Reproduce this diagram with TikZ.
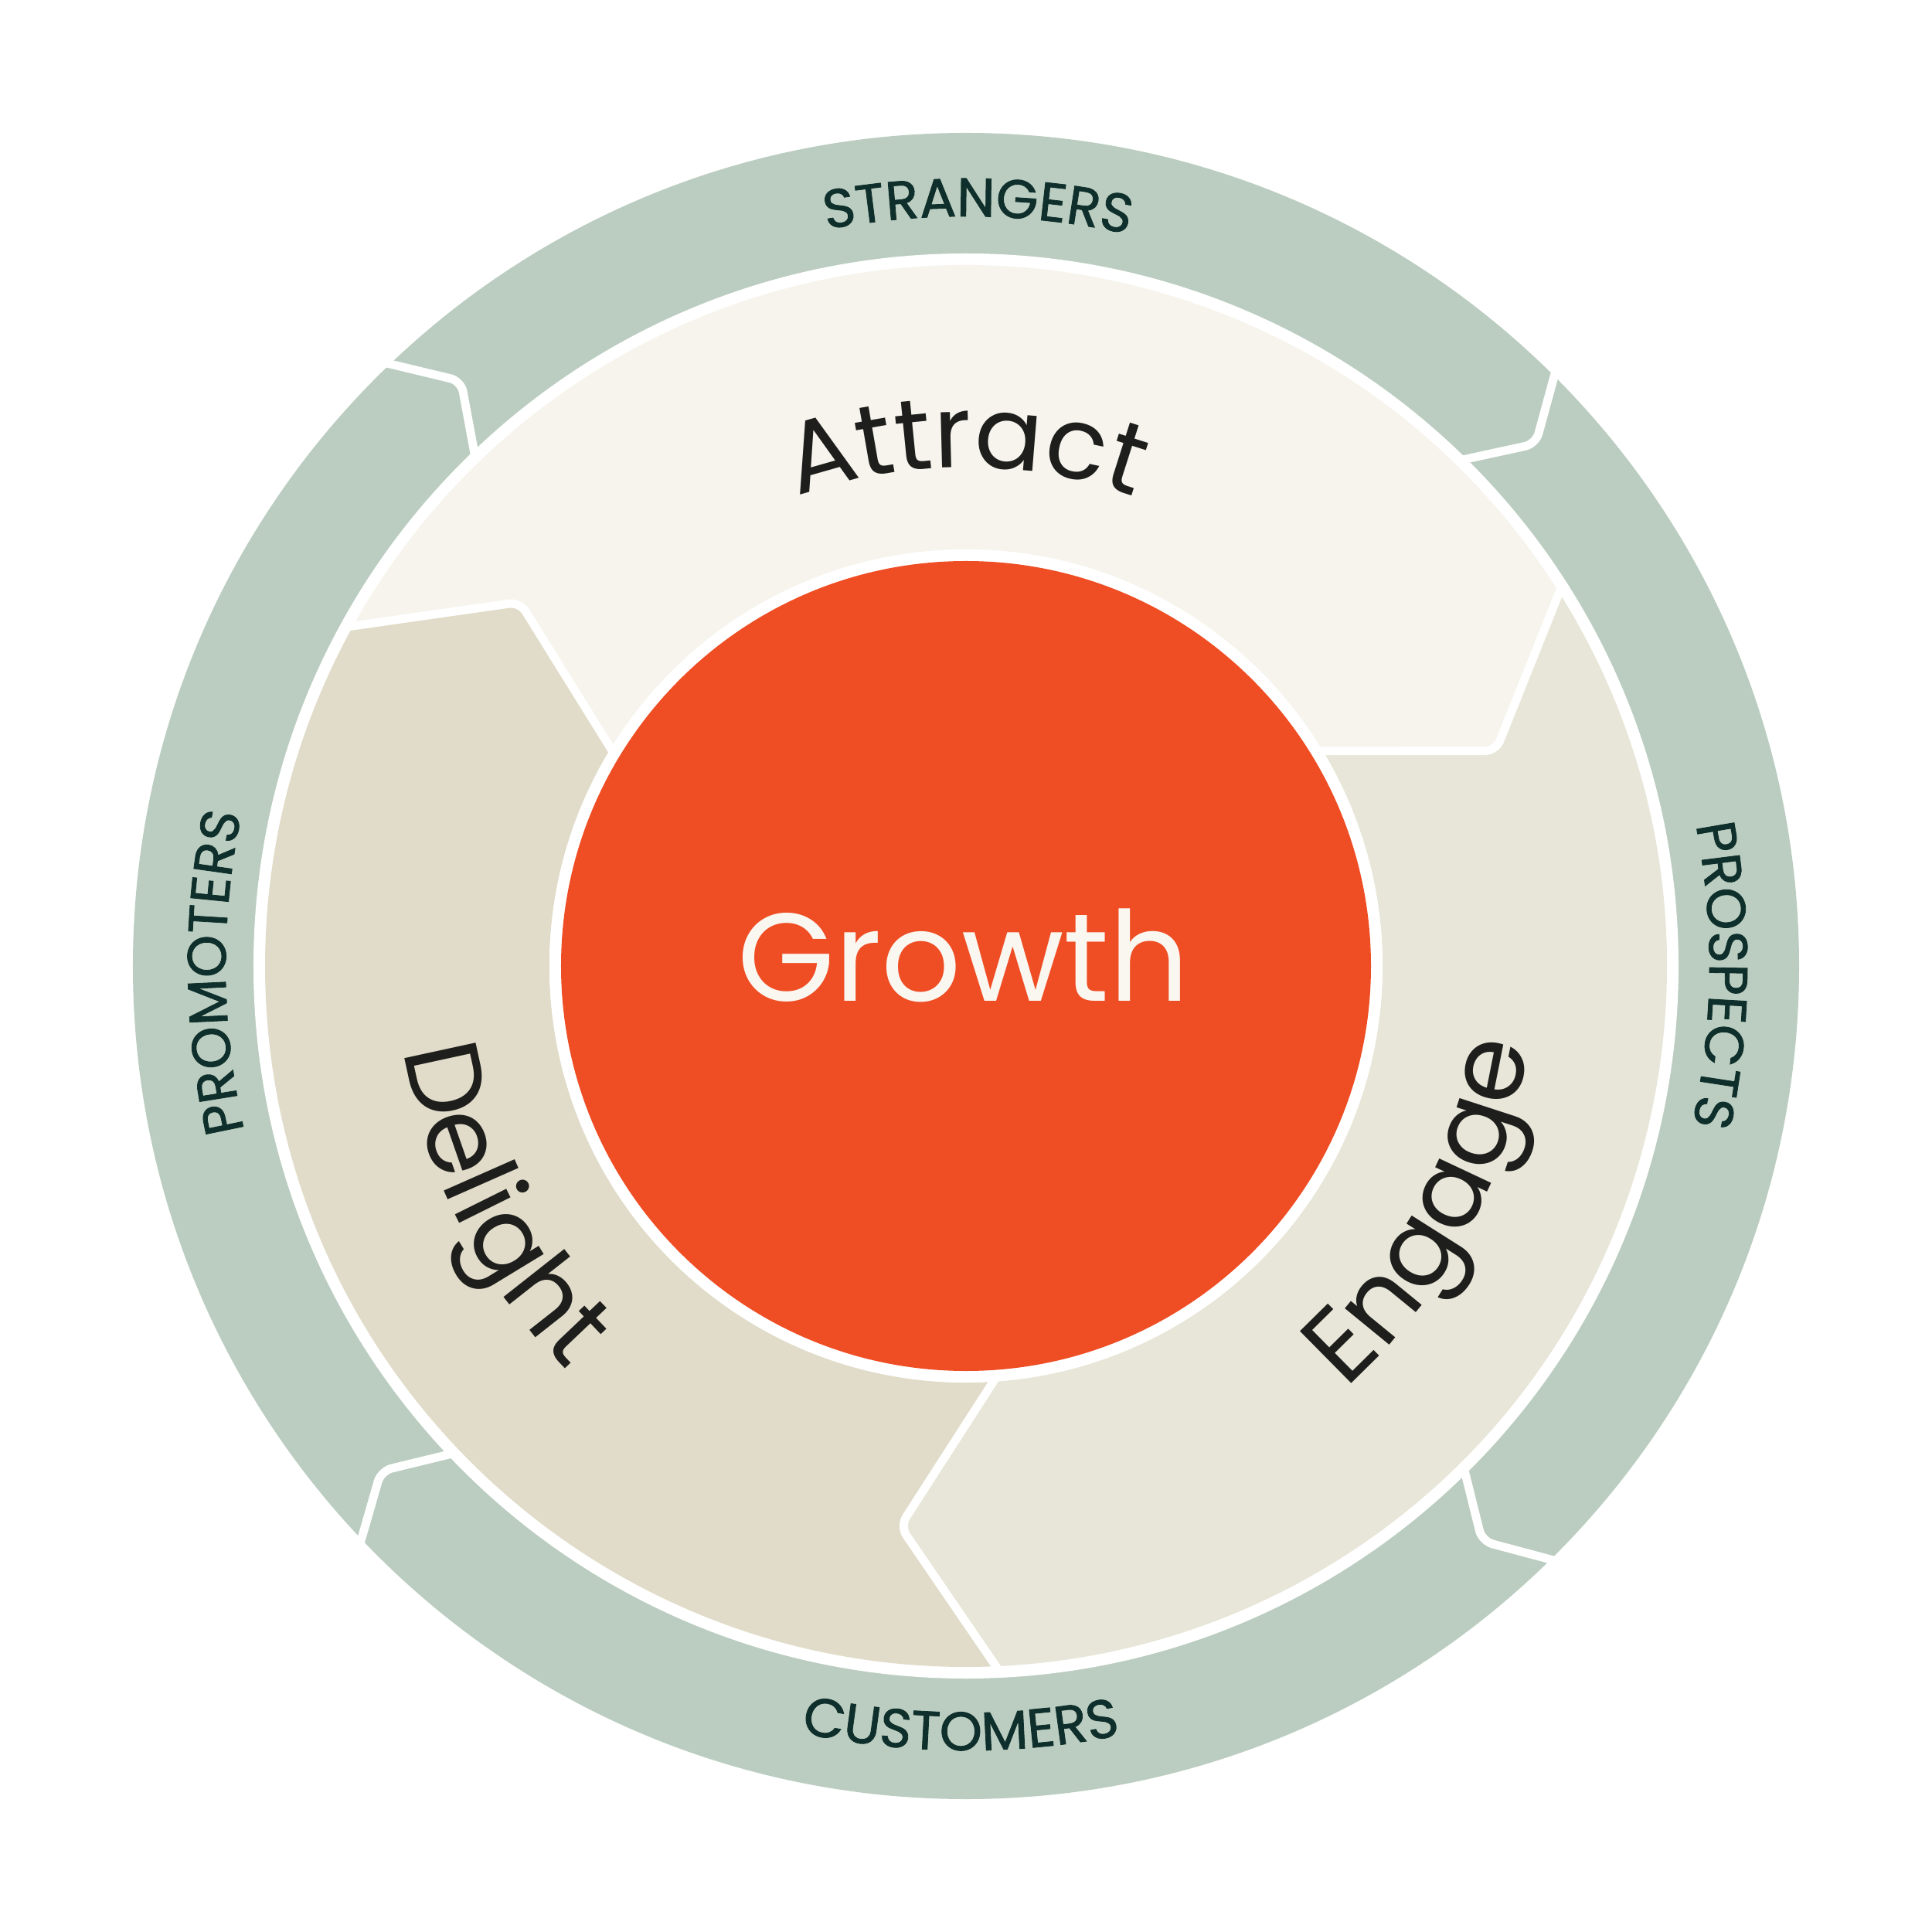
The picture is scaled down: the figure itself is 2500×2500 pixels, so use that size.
\documentclass[tikz,border=0pt]{standalone}
\usepackage{fontspec}
\setmainfont{Poppins}
\newfontfamily\labfam[FakeBold=1.2]{Poppins}
\usetikzlibrary{decorations.text}
\definecolor{ringgreen}{HTML}{BBCDC0}
\definecolor{attractc}{HTML}{F6F4EC}
\definecolor{engagec}{HTML}{E8E6D8}
\definecolor{delightc}{HTML}{E1DCC9}
\definecolor{growthc}{HTML}{EF4D24}
\definecolor{growthtxt}{HTML}{FAF7F0}
\definecolor{segtxt}{HTML}{1E1E1C}
\definecolor{labtxt}{HTML}{0E2F2B}
\newcommand{\segfont}{\fontsize{38.5}{40}\selectfont}
\newcommand{\attfont}{\fontsize{37}{39}\selectfont}
\newcommand{\labfont}{\labfam\fontsize{20}{22}\selectfont}
\begin{document}
\begin{tikzpicture}[x=0.01cm,y=0.01cm,
  sepline/.style={draw=white, line width=3.1pt, rounded corners=4pt, line cap=butt, line join=round}]
\useasboundingbox (-1250,-1250) rectangle (1250,1250);
% outer green ring
\fill[ringgreen] (0,0) circle[radius=1078];
\fill[white] (0,0) circle[radius=922];
% cream segments
\fill[attractc] (32.6:907) arc[start angle=32.6,end angle=151.4,radius=907] -- (140.8:745) -- (148.95:539) arc[start angle=148.95,end angle=31.0,radius=539] -- (22.1:740) -- cycle;
\fill[engagec] (32.6:907) arc[start angle=32.6,end angle=-87.2,radius=907] -- (-96.7:730) -- (-85.6:539) arc[start angle=-85.6,end angle=31.0,radius=539] -- (22.1:740) -- cycle;
\fill[delightc] (272.8:907) arc[start angle=272.8,end angle=151.4,radius=907] -- (140.8:745) -- (148.95:539) arc[start angle=148.95,end angle=274.4,radius=539] -- (263.3:730) -- cycle;
% separators in the cream ring
\draw[sepline] (32.6:916) -- (22.1:740) -- (31.6:531);
\draw[sepline] (151.4:916) -- (140.8:745) -- (148.95:531);
\draw[sepline] (272.8:916) -- (263.3:730) -- (274.4:531);
% separators in the green ring
\draw[sepline] (134.2:1092) -- (130.8:1000) -- (134:914);
\draw[sepline] (45.5:1092) -- (42.5:1000) -- (45.7:914);
\draw[sepline] (315:1092) -- (311.9:1000) -- (314.8:914);
\draw[sepline] (223.9:1092) -- (220.8:1000) -- (223.6:914);
% centre
\fill[white] (0,0) circle[radius=539];
\fill[growthc] (0,0) circle[radius=524];
\node[font=\fontsize{46}{48}\selectfont, text=growthtxt, anchor=base, inner sep=0pt] (growth) at (-3,-45) {Growth};
% segment names
\path[decorate, decoration={text along path, text align=center, text color=segtxt, text={|\attfont|Attract}}] (140:645) arc[start angle=140,end angle=40,radius=645];
\path[decorate, decoration={text along path, text align=center, text color=segtxt, text={|\segfont|Engage}}] (-78:735) arc[start angle=-78,end angle=22,radius=735];
\path[decorate, decoration={text along path, text align=center, text color=segtxt, text={|\segfont|Delight}}] (157:735) arc[start angle=157,end angle=257,radius=735];
% ring labels
\path[decorate, decoration={text along path, text align=center, text color=labtxt, text={|\labfont|STRANGERS}}] (119.1:970) arc[start angle=119.1,end angle=59.1,radius=970];
\path[decorate, decoration={text along path, text align=center, text color=labtxt, text={|\labfont|PROSPECTS}}] (29.3:962) arc[start angle=29.3,end angle=-30.7,radius=962];
\path[decorate, decoration={text along path, text align=center, text color=labtxt, text={|\labfont|CUSTOMERS}}] (239.6:1015) arc[start angle=239.6,end angle=299.6,radius=1015];
\path[decorate, decoration={text along path, text align=center, text color=labtxt, text={|\labfont|PROMOTERS}}] (210.5:958) arc[start angle=210.5,end angle=150.5,radius=958];
\end{tikzpicture}
\end{document}
